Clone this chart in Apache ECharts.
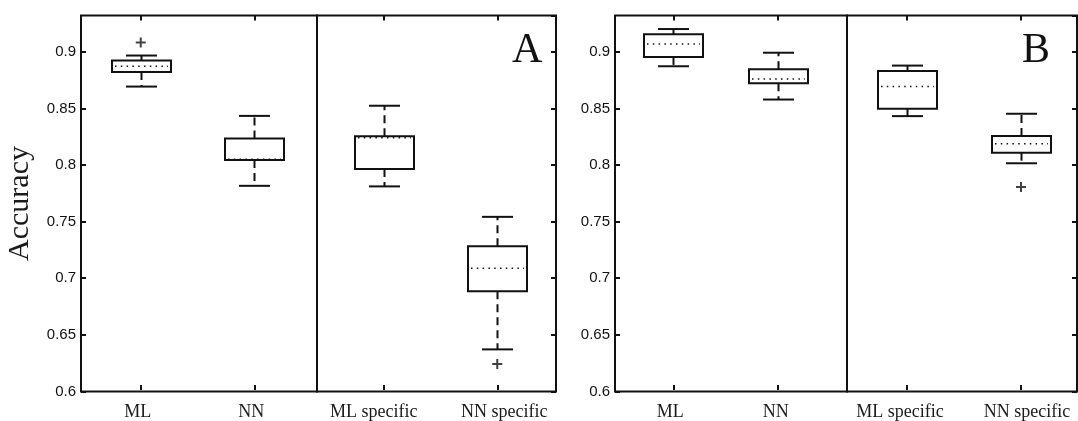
<!DOCTYPE html>
<html>
<head>
<meta charset="utf-8">
<script src="https://cdn.jsdelivr.net/npm/echarts@6/dist/echarts.min.js"></script>
<style>
  html, body { margin: 0; padding: 0; background: #fff; }
  #chart { width: 1078px; height: 421px; }
</style>
</head>
<body>
<div id="chart"></div>
<script>
// Category names for the two halves of each panel
const groupCats = ['ML', 'NN'];
const specificCats = ['ML specific', 'NN specific'];

// Five-number summaries per box: [lower whisker, Q1, median, Q3, upper whisker]
const accA_group = [
  [0.869, 0.882, 0.887, 0.892, 0.8965],
  [0.781, 0.804, 0.8045, 0.823, 0.843]
];
const accA_specific = [
  [0.7805, 0.796, 0.8237, 0.825, 0.852],
  [0.636, 0.6875, 0.708, 0.7275, 0.7535]
];
const accB_group = [
  [0.887, 0.8953, 0.9068, 0.9154, 0.920],
  [0.8575, 0.872, 0.8758, 0.8844, 0.899]
];
const accB_specific = [
  [0.8428, 0.8493, 0.869, 0.8829, 0.8876],
  [0.801, 0.8104, 0.8183, 0.8251, 0.8449]
];

// Outliers: [category, value]
const outA_group = [['ML', 0.908]];
const outA_specific = [['NN specific', 0.623]];
const outB_group = [];
const outB_specific = [['NN specific', 0.780]];

// Y-axis scale
const yMin = 0.6, yMax = 0.932, yStep = 0.05;

const INK = '#111';
const SANS = '"Liberation Sans", Arial, sans-serif';
const SERIF = '"Liberation Serif", "Times New Roman", serif';
const BOX_W = 59, CAP_W = 31;
const TOP = 15.5, HEIGHT = 376;

const chart = echarts.init(document.getElementById('chart'), null, { renderer: 'canvas' });

function renderBox(params, api) {
  const i = api.value(0);
  const lo = api.coord([i, api.value(1)]);
  const q1 = api.coord([i, api.value(2)]);
  const md = api.coord([i, api.value(3)]);
  const q3 = api.coord([i, api.value(4)]);
  const hi = api.coord([i, api.value(5)]);
  const cx = Math.round(lo[0]) + 0.5;
  const hw = BOX_W / 2, cw = CAP_W / 2;
  const solid = { stroke: INK, lineWidth: 2, fill: null };
  const dashed = { stroke: INK, lineWidth: 2, lineDash: [8, 5], fill: null };
  const dotted = { stroke: INK, lineWidth: 1.5, lineDash: [1.5, 4.3], fill: null };
  return {
    type: 'group',
    children: [
      { type: 'line', shape: { x1: cx, y1: q3[1], x2: cx, y2: hi[1] }, style: dashed },
      { type: 'line', shape: { x1: cx, y1: q1[1], x2: cx, y2: lo[1] }, style: dashed },
      { type: 'line', shape: { x1: cx - cw, y1: hi[1], x2: cx + cw, y2: hi[1] }, style: solid },
      { type: 'line', shape: { x1: cx - cw, y1: lo[1], x2: cx + cw, y2: lo[1] }, style: solid },
      { type: 'rect', shape: { x: cx - hw, y: q3[1], width: 2 * hw, height: q1[1] - q3[1] }, style: solid },
      { type: 'line', shape: { x1: cx - hw + 3, y1: md[1], x2: cx + hw - 3, y2: md[1] }, style: dotted }
    ]
  };
}

function boxData(stats) {
  return stats.map((s, i) => [i].concat(s));
}

// Frame grids (bordered) and category grids (boxes)
const frames = [
  { left: 81, width: 236 },   // panel A, left half
  { left: 317, width: 239 },  // panel A, right half
  { left: 615, width: 232 },  // panel B, left half
  { left: 847, width: 230 }   // panel B, right half
];
// labelNudge: horizontal shift (px) of each category label relative to its tick
const boxGrids = [
  { left: 84, width: 227, cats: groupCats, stats: accA_group, outl: outA_group, labelNudge: [-3, -3] },
  { left: 327, width: 227, cats: specificCats, stats: accA_specific, outl: outA_specific, labelNudge: [-10, 7] },
  { left: 621, width: 209, cats: groupCats, stats: accB_group, outl: outB_group, labelNudge: [-3, -2] },
  { left: 850, width: 236, cats: specificCats, stats: accB_specific, outl: outB_specific, labelNudge: [-7, 6] }
];

const grid = [], xAxis = [], yAxis = [], series = [];

frames.forEach((f, k) => {
  grid.push({ left: f.left, top: TOP, width: f.width, height: HEIGHT, show: true,
    borderColor: INK, borderWidth: 2, backgroundColor: 'transparent' });
  xAxis.push({ type: 'value', gridIndex: k, show: false, min: 0, max: 1 });
  const isLeft = (k % 2 === 0);
  yAxis.push({
    type: 'value', gridIndex: k, min: yMin, max: yMax, interval: yStep,
    position: isLeft ? 'left' : 'right',
    axisLine: { show: false, onZero: false },
    axisTick: { show: true, inside: true, length: 5, lineStyle: { color: INK, width: 2 } },
    axisLabel: { show: isLeft, showMaxLabel: false, margin: 5, color: '#111',
      fontFamily: SANS, fontSize: 15 },
    splitLine: { show: false },
    name: k === 0 ? 'Accuracy' : '',
    nameLocation: 'middle', nameRotate: 90, nameGap: 46,
    nameTextStyle: { fontFamily: SERIF, fontSize: 30, color: '#1a1a1a' }
  });
});

boxGrids.forEach((b, j) => {
  const gi = frames.length + j;
  grid.push({ left: b.left, top: TOP, width: b.width, height: HEIGHT });
  const rich = {};
  b.labelNudge.forEach((d, n) => {
    rich['c' + n] = {
      fontFamily: SERIF, fontSize: 18, color: '#1a1a1a',
      padding: [0, d < 0 ? -2 * d : 0, 0, d > 0 ? 2 * d : 0]
    };
  });
  const bottomIdx = xAxis.length;
  xAxis.push({
    type: 'category', gridIndex: gi, data: b.cats, position: 'bottom',
    axisLine: { show: false, onZero: false },
    axisTick: { show: true, inside: true, alignWithLabel: true, interval: 0, length: 5,
      lineStyle: { color: INK, width: 2 } },
    axisLabel: { interval: 0, hideOverlap: false, margin: 13, color: '#1a1a1a',
      fontFamily: SERIF, fontSize: 18,
      formatter: (v, n) => '{c' + n + '|' + v + '}', rich }
  });
  xAxis.push({
    type: 'category', gridIndex: gi, data: b.cats, position: 'top',
    axisLine: { show: false, onZero: false },
    axisTick: { show: true, inside: true, alignWithLabel: true, interval: 0, length: 5,
      lineStyle: { color: INK, width: 2 } },
    axisLabel: { show: false }
  });
  const yIdx = yAxis.length;
  yAxis.push({ type: 'value', gridIndex: gi, min: yMin, max: yMax, show: false });
  series.push({
    type: 'custom', xAxisIndex: bottomIdx, yAxisIndex: yIdx,
    renderItem: renderBox, data: boxData(b.stats),
    encode: { x: 0, y: [1, 2, 3, 4, 5] }, silent: true
  });
  series.push({
    type: 'scatter', xAxisIndex: bottomIdx, yAxisIndex: yIdx,
    data: b.outl, symbol: 'path://M4,0h2v10h-2zM0,4h10v2h-10z', symbolSize: 10,
    itemStyle: { color: INK }, silent: true
  });
});

chart.setOption({
  animation: false,
  backgroundColor: '#fff',
  grid, xAxis, yAxis, series,
  graphic: [
    { type: 'text', left: 512, top: 30, style: { text: 'A', font: '42px ' + SERIF, fill: INK } },
    { type: 'text', left: 1022, top: 30, style: { text: 'B', font: '42px ' + SERIF, fill: INK } }
  ]
});
</script>
</body>
</html>
